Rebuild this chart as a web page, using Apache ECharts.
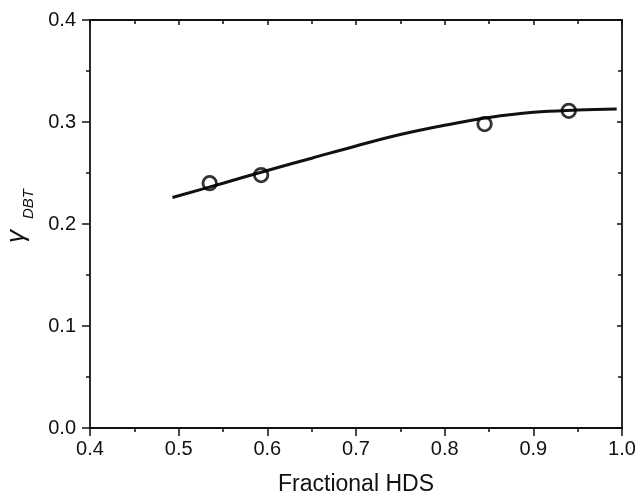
<!DOCTYPE html>
<html>
<head>
<meta charset="utf-8">
<script src="https://cdn.jsdelivr.net/npm/echarts@6/dist/echarts.min.js"></script>
<style>
  html, body { margin: 0; padding: 0; background: #fff; }
  #chart { width: 637px; height: 496px; }
</style>
</head>
<body>
<div id="chart"></div>
<script>
// Measured points: fractional HDS vs gamma_DBT
const measuredX = [0.535, 0.593, 0.845, 0.940];
const measuredY = [0.240, 0.248, 0.298, 0.311];

// Fitted trend curve, sampled along its length
const fitX = [0.493, 0.55, 0.60, 0.65, 0.70, 0.75, 0.80, 0.85, 0.90, 0.95, 0.994];
const fitY = [0.226, 0.240, 0.2525, 0.2645, 0.2765, 0.2877, 0.2968, 0.3044, 0.3095, 0.3117, 0.3127];

const xTicks = [0.4, 0.5, 0.6, 0.7, 0.8, 0.9, 1.0];
const yTicks = [0.0, 0.1, 0.2, 0.3, 0.4];

const FONT = "'Liberation Sans', Arial, Helvetica, sans-serif";
const INK = '#111';

const chart = echarts.init(document.getElementById('chart'), null, { renderer: 'canvas' });

const fmt = v => Number(v).toFixed(1);

const tickStyle = { color: INK, width: 1.5 };
const lineStyle = { color: INK, width: 1.8 };

function frameAxis(kind, pos, outer) {
  const ticks = kind === 'x' ? xTicks : yTicks;
  return {
    type: 'value',
    position: pos,
    min: ticks[0],
    max: ticks[ticks.length - 1],
    interval: 0.1,
    splitLine: { show: false },
    axisLine: { show: true, onZero: false, lineStyle: lineStyle },
    axisTick: outer
      ? { show: true, length: 8, lineStyle: tickStyle }
      : { show: true, inside: true, length: 5, lineStyle: tickStyle },
    minorTick: { show: true, splitNumber: 2, length: 4, lineStyle: tickStyle },
    axisLabel: outer
      ? { margin: kind === 'x' ? 11 : 14, fontFamily: FONT, fontSize: 20, color: INK, formatter: fmt }
      : { show: false }
  };
}

const xBottom = frameAxis('x', 'bottom', true);
xBottom.name = 'Fractional HDS';
xBottom.nameLocation = 'middle';
xBottom.nameGap = 45;
xBottom.nameTextStyle = { fontFamily: FONT, fontSize: 23, color: INK };

chart.setOption({
  animation: false,
  backgroundColor: '#fff',
  grid: { left: 90, right: 15, top: 20, bottom: 68, containLabel: false, outerBoundsMode: 'none' },
  xAxis: [xBottom, frameAxis('x', 'top', false)],
  yAxis: [frameAxis('y', 'left', true), frameAxis('y', 'right', false)],
  graphic: [
    {
      // rotated axis title: gamma with DBT subscript
      type: 'group',
      x: 17,
      y: 243,
      rotation: Math.PI / 2,
      children: [
        {
          type: 'text',
          x: 0, y: 0,
          style: { text: 'γ', font: 'italic 26px ' + FONT, fill: INK, align: 'left', verticalAlign: 'middle' }
        },
        {
          type: 'text',
          x: 24, y: 12,
          style: { text: 'DBT', font: 'italic 15px ' + FONT, fill: INK, align: 'left', verticalAlign: 'middle' }
        }
      ]
    }
  ],
  series: [
    {
      type: 'line',
      xAxisIndex: 0,
      yAxisIndex: 0,
      data: fitX.map((x, i) => [x, fitY[i]]),
      smooth: 0.4,
      showSymbol: false,
      lineStyle: { color: INK, width: 3 },
      z: 2
    },
    {
      type: 'scatter',
      xAxisIndex: 0,
      yAxisIndex: 0,
      data: measuredX.map((x, i) => [x, measuredY[i]]),
      symbol: 'circle',
      symbolSize: 13.5,
      itemStyle: { color: 'rgba(0,0,0,0)', borderColor: '#000', borderWidth: 2.8 },
      z: 3
    }
  ]
});
</script>
</body>
</html>
